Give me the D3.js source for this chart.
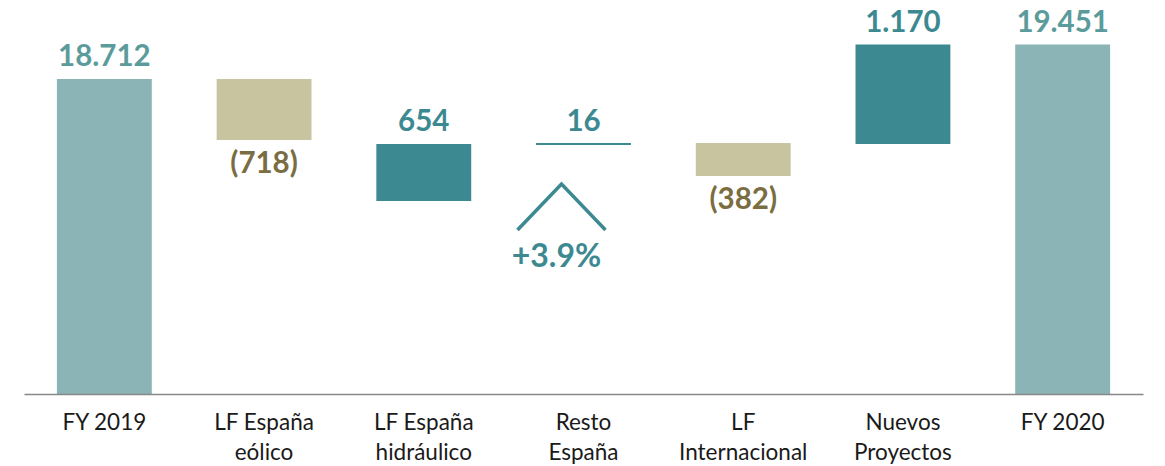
<!DOCTYPE html>
<html>
<head>
<meta charset="utf-8">
<script src="https://cdn.jsdelivr.net/npm/d3@7"></script>
<style>
	body { margin: 0; background: #fff; }
	text { font-family: Lato, "Open Sans", sans-serif; }
</style>
</head>
<body>
<script>
var width = 1165,
	height = 466;

// categories, two lines each
var categories = [
	['FY 2019'],
	['LF España', 'eólico'],
	['LF España', 'hidráulico'],
	['Resto', 'España'],
	['LF', 'Internacional'],
	['Nuevos', 'Proyectos'],
	['FY 2020']
];

var values = [18712, -718, 654, 16, -382, 1170, 19451];
var kinds = ['total', 'down', 'up', 'up', 'down', 'up', 'total'];

// bar ends as drawn in the source (the source is not to scale)
var drawnFrom = [11965, 18712, 16099, 17320, 17341, 17320, 11965];
var drawnTo = [18712, 17405, 17320, 17320, 16634, 19451, 19451];

var growth = '+3.9%';

var fill = {
	total: '#8ab4b5',
	up: '#3d8991',
	down: '#c9c4a0'
};
var labelColor = {
	total: '#5b9b9b',
	up: '#3d8991',
	down: '#7a6d42'
};

var locale = d3.formatLocale({ decimal: ',', thousands: '.', grouping: [3], currency: ['', ''] });
var fmt = locale.format(',d');

function labelText(v) {
	return v < 0 ? '(' + fmt(-v) + ')' : fmt(v);
}

var keys = categories.map(function(c) { return c.join(' '); });

var x = d3.scaleBand()
	.domain(keys)
	.range([24, 1143])
	.paddingInner(0.406)
	.paddingOuter(0.206);

var y = d3.scaleLinear()
	.domain([11965, 19451])
	.range([394, 44.5]);

var svg = d3.select('body')
	.append('svg')
	.attr('width', width)
	.attr('height', height);

var data = values.map(function(v, i) {
	return {
		key: keys[i],
		value: v,
		kind: kinds[i],
		top: Math.max(drawnFrom[i], drawnTo[i]),
		bottom: Math.min(drawnFrom[i], drawnTo[i])
	};
});

// bars
svg.selectAll('rect.bar')
	.data(data)
	.enter()
	.append('rect')
	.attr('class', 'bar')
	.attr('x', function(d) { return x(d.key); })
	.attr('width', x.bandwidth())
	.attr('y', function(d) { return y(d.top) - (d.top == d.bottom ? 1 : 0); })
	.attr('height', function(d) { return Math.max(2, y(d.bottom) - y(d.top)); })
	.attr('fill', function(d) { return fill[d.kind]; });

// value labels
svg.selectAll('text.val')
	.data(data)
	.enter()
	.append('text')
	.attr('class', 'val')
	.attr('x', function(d) { return x(d.key) + x.bandwidth() / 2; })
	.attr('y', function(d) {
		return d.kind == 'down' ? y(d.bottom) + 33 : y(d.top) - 13;
	})
	.attr('text-anchor', 'middle')
	.attr('font-size', 29.5)
	.attr('font-weight', 'bold')
	.attr('fill', function(d) { return labelColor[d.kind]; })
	.text(function(d) { return labelText(d.value); });

// growth chevron under "Resto España"
var cx = x(keys[3]) + x.bandwidth() / 2 - 22;
svg.append('path')
	.attr('d', d3.line()([[cx - 44, 230], [cx, 184], [cx + 44, 230]]))
	.attr('fill', 'none')
	.attr('stroke', '#3d8991')
	.attr('stroke-width', 3.5);

svg.append('text')
	.attr('x', cx - 5)
	.attr('y', 267)
	.attr('text-anchor', 'middle')
	.attr('font-size', 32)
	.attr('font-weight', 'bold')
	.attr('fill', '#3d8991')
	.text(growth);

// x axis
var axis = svg.append('g')
	.attr('transform', 'translate(0,' + y(11965) + ')')
	.call(d3.axisBottom(x).tickSize(0).tickSizeOuter(0).tickFormat(''));

axis.select('.domain')
	.attr('stroke', '#888')
	.attr('stroke-width', 1.5);

axis.selectAll('.tick text').remove();

axis.selectAll('.tick')
	.append('text')
	.attr('fill', '#1a1a1a')
	.attr('font-size', 22.5)
	.attr('text-anchor', 'middle')
	.each(function(d, i) {
		var t = d3.select(this);
		categories[i].forEach(function(line, j) {
			t.append('tspan')
				.attr('x', 0)
				.attr('y', 36 + j * 30)
				.text(line);
		});
	});
</script>
</body>
</html>
